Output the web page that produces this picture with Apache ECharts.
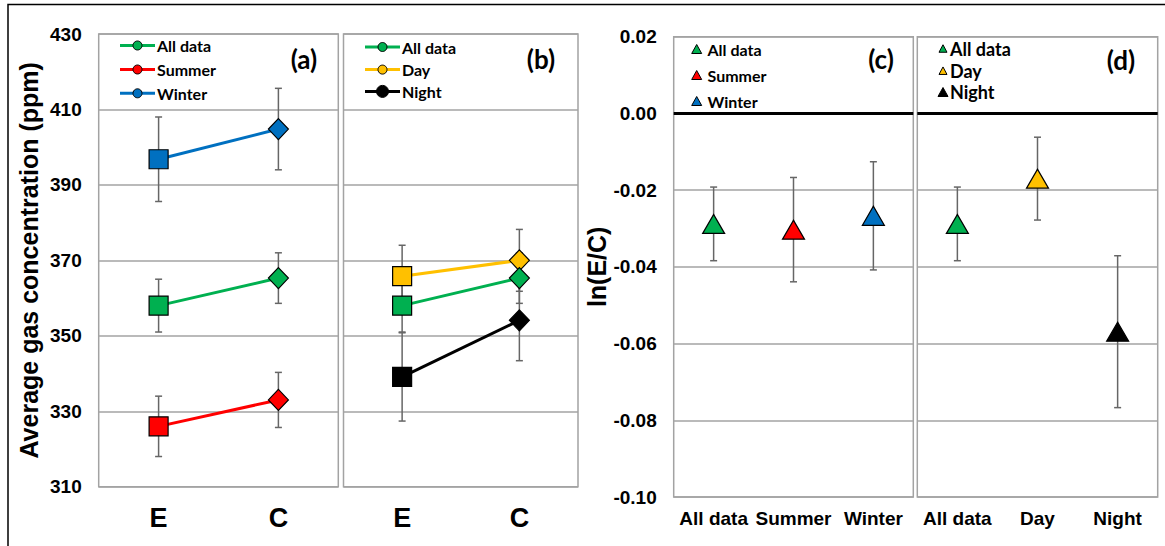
<!DOCTYPE html>
<html>
<head>
<meta charset="utf-8">
<script src="https://cdn.jsdelivr.net/npm/echarts@6/dist/echarts.min.js"></script>
<style>
  html, body { margin: 0; padding: 0; background: #fff; }
  #chart { width: 1165px; height: 546px; }
</style>
</head>
<body>
<div id="chart"></div>
<script>
// ---- Panels (a) and (b): mean CO2 concentration at elevated (E) and control (C) plots
const siteCategories = ['E', 'C'];
const concTicks = [310, 330, 350, 370, 390, 410, 430];

const allDataMean = [358.0, 365.3];
const allDataErr  = [7.0, 6.7];
const summerMean  = [326.0, 333.0];
const summerErr   = [8.0, 7.3];
const winterMean  = [396.8, 404.8];
const winterErr   = [11.2, 10.8];
const dayMean     = [365.8, 370.0];
const dayErr      = [8.2, 8.2];
const nightMean   = [339.1, 354.1];
const nightErr    = [11.7, 10.7];

// ---- Panels (c) and (d): response ratio ln(E/C)
const seasonCategories = ['All data', 'Summer', 'Winter'];
const seasonRatio      = [-0.0288, -0.0303, -0.0267];
const seasonRatioErr   = [0.0096, 0.0136, 0.0141];
const dielCategories   = ['All data', 'Day', 'Night'];
const dielRatio        = [-0.0288, -0.0170, -0.0569];
const dielRatioErr     = [0.0096, 0.0108, 0.0198];
const ratioTicks = [-0.10, -0.08, -0.06, -0.04, -0.02, 0.00, 0.02];

// ---- styling
const AXIS_FONT = '"Liberation Sans", Arial, sans-serif';
const LEGEND_FONT = 'Lato, "Open Sans", sans-serif';
const GRID_GRAY = '#a3a3a3';
const ERR_GRAY = '#666666';
const C_ALL = '#00B050', C_SUMMER = '#FF0000', C_WINTER = '#0070C0', C_DAY = '#FFC000', C_NIGHT = '#000000';

const chart = echarts.init(document.getElementById('chart'), null, { renderer: 'svg', width: 1165, height: 546 });

const gridBoxes = [
  { left: 98.7,  top: 34,   width: 239.6, height: 452.7 },
  { left: 343.5, top: 34,   width: 234.5, height: 452.7 },
  { left: 673.7, top: 36.7, width: 239.6, height: 460.3 },
  { left: 917.3, top: 36.7, width: 240.4, height: 460.3 }
];
const grids = gridBoxes.map(g => Object.assign({
  show: true, borderColor: GRID_GRAY, borderWidth: 1.5, backgroundColor: '#fff', containLabel: false
}, g));

function catAxis(gridIndex, data, fontSize, margin) {
  return {
    type: 'category', gridIndex, data, boundaryGap: true,
    axisLine: { show: false }, axisTick: { show: false }, splitLine: { show: false },
    axisLabel: { interval: 0, margin, color: '#000', fontFamily: AXIS_FONT, fontWeight: 'bold', fontSize }
  };
}

function valAxis(gridIndex, ticks, showLabel, formatter, name, nameGap) {
  return {
    type: 'value', gridIndex,
    min: ticks[0], max: ticks[ticks.length - 1], interval: ticks[1] - ticks[0],
    axisLine: { show: false }, axisTick: { show: false },
    splitLine: { show: true, lineStyle: { color: GRID_GRAY, width: 1.5 } },
    axisLabel: {
      show: showLabel, margin: 17, color: '#000', formatter,
      fontFamily: AXIS_FONT, fontWeight: 'bold', fontSize: 19
    },
    name: name || '', nameLocation: 'middle', nameGap: nameGap || 0, nameRotate: 90,
    nameTextStyle: { color: '#000', fontFamily: AXIS_FONT, fontWeight: 'bold', fontSize: 25 }
  };
}

const concFmt = v => String(Math.round(v));
const ratioFmt = v => (Math.abs(v) < 1e-9 ? 0 : v).toFixed(2);

// vertical error bars with small caps
function errorBars(idx, cats, means, errs) {
  return {
    type: 'custom', xAxisIndex: idx, yAxisIndex: idx, z: 2, silent: true,
    data: means.map((m, i) => [cats[i], m - errs[i], m + errs[i]]),
    encode: { x: 0, y: [1, 2] },
    renderItem(params, api) {
      const x = api.value(0);
      const lo = api.coord([x, api.value(1)]);
      const hi = api.coord([x, api.value(2)]);
      const cap = 3.5;
      const style = { stroke: ERR_GRAY, lineWidth: 1.5, fill: null };
      return {
        type: 'group',
        children: [
          { type: 'line', shape: { x1: lo[0], y1: lo[1], x2: hi[0], y2: hi[1] }, style },
          { type: 'line', shape: { x1: lo[0] - cap, y1: lo[1], x2: lo[0] + cap, y2: lo[1] }, style },
          { type: 'line', shape: { x1: hi[0] - cap, y1: hi[1], x2: hi[0] + cap, y2: hi[1] }, style }
        ]
      };
    }
  };
}

// E plotted as a square, C as a diamond, joined by a line
function siteLine(idx, name, means, color) {
  return {
    type: 'line', name, xAxisIndex: idx, yAxisIndex: idx, z: 3,
    data: means.map((v, i) => ({
      value: v,
      symbol: i === 0 ? 'rect' : 'diamond',
      symbolSize: i === 0 ? 19 : [20, 21]
    })),
    showSymbol: true,
    lineStyle: { color, width: 3 },
    itemStyle: { color, borderColor: '#000', borderWidth: 1.2 }
  };
}

function ratioPoints(idx, cats, vals, colors) {
  return {
    type: 'scatter', xAxisIndex: idx, yAxisIndex: idx, z: 3,
    symbol: 'triangle', symbolSize: [22, 19],
    data: vals.map((v, i) => ({ value: [cats[i], v], itemStyle: { color: colors[i] } })),
    itemStyle: { borderColor: '#000', borderWidth: 1.2, opacity: 1 },
    markLine: {
      silent: true, symbol: ['none', 'none'], label: { show: false },
      lineStyle: { color: '#000', width: 3, type: 'solid' },
      data: [{ yAxis: 0 }]
    }
  };
}

// ---- legend blocks and panel letters
const graphics = [];
graphics.push({
  type: 'rect', silent: true, z: 100,
  shape: { x: 8, y: 4.5, width: 1300, height: 700 },
  style: { fill: 'none', stroke: '#000', lineWidth: 1.5 }
});

function legendText(x, y, text, size) {
  return {
    type: 'text', z: 100, silent: true,
    style: { x, y, text, fill: '#000', font: 'bold ' + size + 'px ' + LEGEND_FONT, align: 'left', verticalAlign: 'middle' }
  };
}
function lineLegend(x0, x1, ys, entries) {
  entries.forEach((e, i) => {
    const y = ys[i];
    graphics.push({ type: 'line', z: 100, silent: true, shape: { x1: x0, y1: y, x2: x1, y2: y }, style: { stroke: e.color, lineWidth: 3 } });
    graphics.push({ type: 'circle', z: 101, silent: true, shape: { cx: (x0 + x1) / 2, cy: y, r: e.r || 4.5 }, style: { fill: e.color, stroke: '#000', lineWidth: 1 } });
    graphics.push(legendText(x1 + 2, y, e.name, 16));
  });
}
function triLegend(cx, textX, ys, entries, w, h, size) {
  entries.forEach((e, i) => {
    const y = ys[i];
    const ww = e.w || w, hh = e.h || h;
    graphics.push({
      type: 'polygon', z: 100, silent: true,
      shape: { points: [[cx, y - hh / 2], [cx + ww / 2, y + hh / 2], [cx - ww / 2, y + hh / 2]] },
      style: { fill: e.color, stroke: '#000', lineWidth: 1 }
    });
    graphics.push(legendText(textX, y, e.name, size));
  });
}
function panelLetter(cx, cy, text) {
  graphics.push({
    type: 'text', z: 100, silent: true,
    style: { x: cx, y: cy, text, fill: '#000', font: 'bold 26px ' + LEGEND_FONT, align: 'center', verticalAlign: 'middle' }
  });
}

lineLegend(120, 155, [45.5, 69.5, 93.3], [
  { name: 'All data', color: C_ALL }, { name: 'Summer', color: C_SUMMER }, { name: 'Winter', color: C_WINTER }
]);
lineLegend(365, 400, [47, 69.6, 91.4], [
  { name: 'All data', color: C_ALL }, { name: 'Day', color: C_DAY }, { name: 'Night', color: C_NIGHT, r: 6 }
]);
triLegend(696.7, 707.5, [49, 75, 101], [
  { name: 'All data', color: C_ALL }, { name: 'Summer', color: C_SUMMER }, { name: 'Winter', color: C_WINTER }
], 10, 9, 16);
triLegend(943, 950, [48.5, 70.7, 92], [
  { name: 'All data', color: C_ALL }, { name: 'Day', color: C_DAY }, { name: 'Night', color: C_NIGHT, w: 10, h: 9 }
], 8, 7.5, 18);

panelLetter(304, 59, '(a)');
panelLetter(541, 59, '(b)');
panelLetter(881, 59, '(c)');
panelLetter(1121, 60, '(d)');

const option = {
  animation: false,
  backgroundColor: '#fff',
  grid: grids,
  xAxis: [
    catAxis(0, siteCategories, 27, 18),
    catAxis(1, siteCategories, 27, 18),
    catAxis(2, seasonCategories, 19, 12),
    catAxis(3, dielCategories, 19, 12)
  ],
  yAxis: [
    valAxis(0, concTicks, true, concFmt, 'Average gas concentration (ppm)', 57),
    valAxis(1, concTicks, false, concFmt),
    valAxis(2, ratioTicks, true, ratioFmt, 'ln(E/C)', 61),
    valAxis(3, ratioTicks, false, ratioFmt)
  ],
  series: [
    errorBars(0, siteCategories, allDataMean, allDataErr),
    errorBars(0, siteCategories, summerMean, summerErr),
    errorBars(0, siteCategories, winterMean, winterErr),
    siteLine(0, 'All data', allDataMean, C_ALL),
    siteLine(0, 'Summer', summerMean, C_SUMMER),
    siteLine(0, 'Winter', winterMean, C_WINTER),

    errorBars(1, siteCategories, nightMean, nightErr),
    errorBars(1, siteCategories, dayMean, dayErr),
    errorBars(1, siteCategories, allDataMean, allDataErr),
    siteLine(1, 'Night', nightMean, C_NIGHT),
    siteLine(1, 'Day', dayMean, C_DAY),
    siteLine(1, 'All data', allDataMean, C_ALL),

    errorBars(2, seasonCategories, seasonRatio, seasonRatioErr),
    ratioPoints(2, seasonCategories, seasonRatio, [C_ALL, C_SUMMER, C_WINTER]),
    errorBars(3, dielCategories, dielRatio, dielRatioErr),
    ratioPoints(3, dielCategories, dielRatio, [C_ALL, C_DAY, C_NIGHT])
  ],
  graphic: graphics
};

chart.setOption(option);
</script>
</body>
</html>
